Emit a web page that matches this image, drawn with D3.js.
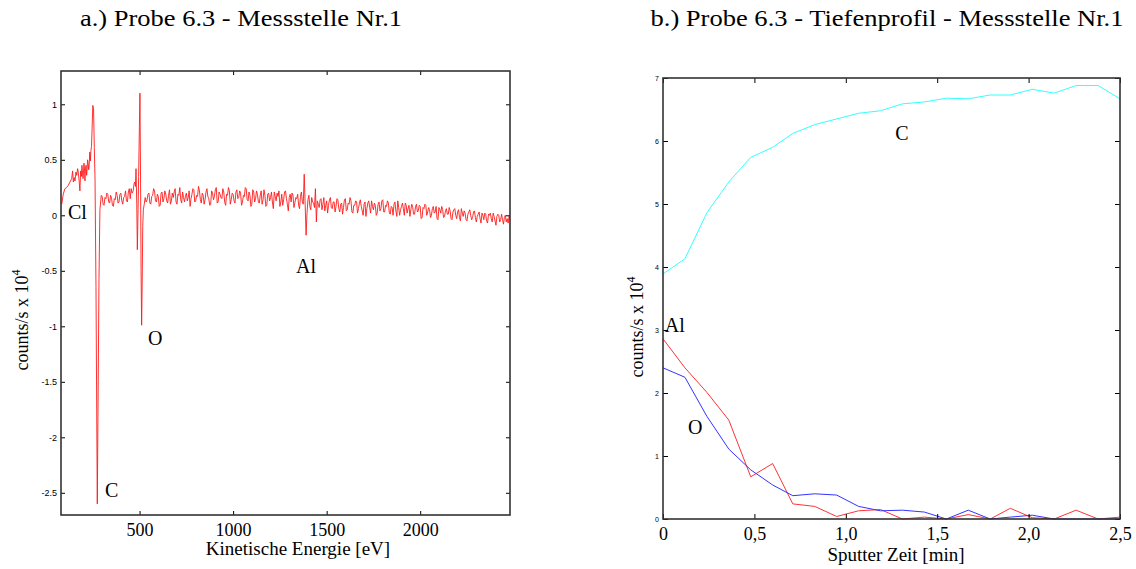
<!DOCTYPE html>
<html><head><meta charset="utf-8">
<script src="https://cdn.jsdelivr.net/npm/d3@7"></script>
<style>body{margin:0;background:#fff} svg{display:block}</style>
</head><body><svg id="c" width="1136" height="569"></svg>
<script>
// ---------- Chart a: AES spectrum ----------
const energyEV = [
 84,92,101,110,119,128,137,142,146,150,155,160,164,169,173,178,181,185,189,192,
 195,198,203,206,208,211,214,217,219,222,225,228,230,234,237,240,243,246,250,254,
 258,262,267,271,274,279,283,288,292,
 295,300,305,310,315,320,325,330,335,340,345,350,355,360,365,370,375,380,385,390,
 395,400,405,410,415,420,425,430,435,440,445,450,
 455,460,466,470,474,478,481,485,488,492,495,499,502,505,508,511,514,517,520,525,530,535,
 540,545,550,555,560,565,570,575,580,585,590,595,600,605,610,615,620,625,630,635,
 640,645,650,655,660,665,670,675,680,685,690,695,700,705,710,715,720,725,730,735,
 740,745,750,755,760,765,770,775,780,785,790,795,800,805,810,815,820,825,830,835,
 840,845,850,855,860,865,870,875,880,885,890,895,900,905,910,915,920,925,930,935,
 940,945,950,955,960,965,970,975,980,985,990,995,1000,1005,1010,1015,1020,1025,1030,1035,
 1040,1045,1050,1055,1060,1065,1070,1075,1080,1085,1090,1095,1100,1105,1110,1115,1120,1125,1130,1135,
 1140,1145,1150,1155,1160,1165,1170,1175,1180,1185,1190,1195,1200,1205,1210,1215,1220,1225,1230,1235,
 1240,1245,1250,1255,1260,1265,1270,1275,1280,1285,1290,1295,1300,1305,1310,1315,1320,1325,1330,1335,
 1340,1345,1350,1355,1360,1365,1370,1375,1380,1385,1390,1395,1400,1405,1410,1415,1420,1425,1430,1435,
 1440,1445,1450,1455,1460,1465,1470,1475,1480,1485,1490,1495,1500,1505,1510,1515,1520,1525,1530,1535,
 1540,1545,1550,1555,1560,1565,1570,1575,1580,1585,1590,1595,1600,1605,1610,1615,1620,1625,1630,1635,
 1640,1645,1650,1655,1660,1665,1670,1675,1680,1685,1690,1695,1700,1705,1710,1715,1720,1725,1730,1735,
 1740,1745,1750,1755,1760,1765,1770,1775,1780,1785,1790,1795,1800,1805,1810,1815,1820,1825,1830,1835,
 1840,1845,1850,1855,1860,1865,1870,1875,1880,1885,1890,1895,1900,1905,1910,1915,1920,1925,1930,1935,
 1940,1945,1950,1955,1960,1965,1970,1975,1980,1985,1990,1995,2000,2005,2010,2015,2020,2025,2030,2035,
 2040,2045,2050,2055,2060,2065,2070,2075,2080,2085,2090,2095,2100,2105,2110,2115,2120,2125,2130,2135,
 2140,2145,2150,2155,2160,2165,2170,2175,2180,2185,2190,2195,2200,2205,2210,2215,2220,2225,2230,2235,
 2240,2245,2250,2255,2260,2265,2270,2275,2280,2285,2290,2295,2300,2305,2310,2315,2320,2325,2330,2335,
 2340,2345,2350,2355,2360,2365,2370,2375,2380,2385,2390,2395,2400,2405,2410,2415,2420,2425,2430,2435,
 2440,2445,2450,2455,2460,2465,2470,2475,2480
];
const countsA = [
 0.10,0.19,0.24,0.25,0.27,0.30,0.33,0.40,0.30,0.34,0.31,0.39,0.36,0.42,0.38,0.29,0.22,0.40,0.35,0.45,
 0.38,0.33,0.47,0.40,0.31,0.42,0.45,0.36,0.40,0.50,0.47,0.41,0.43,0.57,0.49,0.58,0.62,0.77,0.99,0.96,
 0.61,0.31,-0.65,-1.78,-2.60,-1.49,-0.58,0.05,0.12,
 0.18,0.17,0.10,0.09,0.16,0.15,0.20,0.19,0.12,0.11,0.18,0.16,0.09,0.08,0.15,0.14,0.21,0.18,0.11,0.12,
 0.19,0.20,0.13,0.10,0.16,0.17,0.22,0.13,0.12,0.21,0.24,0.15,
 0.24,0.20,0.22,0.28,0.30,0.26,0.42,0.10,-0.31,0.05,0.35,0.80,1.10,0.40,-0.50,-0.99,-0.60,-0.10,0.05,0.10,0.16,0.12,
 0.14,0.19,0.20,0.11,0.10,0.17,0.18,0.24,0.22,0.13,0.12,0.19,0.17,0.08,0.09,0.20,0.21,0.12,0.15,0.22,
 0.19,0.13,0.11,0.18,0.23,0.10,0.13,0.20,0.16,0.21,0.24,0.12,0.10,0.19,0.18,0.25,0.14,0.11,0.21,0.16,
 0.12,0.17,0.20,0.13,0.16,0.22,0.08,0.15,0.19,0.24,0.23,0.12,0.13,0.18,0.17,0.26,0.22,0.14,0.11,0.20,
 0.18,0.10,0.14,0.21,0.24,0.17,0.15,0.09,0.10,0.22,0.20,0.14,0.17,0.23,0.25,0.11,0.12,0.21,0.19,0.16,
 0.15,0.24,0.21,0.12,0.09,0.19,0.18,0.25,0.22,0.10,0.14,0.20,0.19,0.13,0.11,0.21,0.23,0.15,0.16,0.22,
 0.20,0.09,0.12,0.18,0.17,0.25,0.24,0.14,0.13,0.21,0.18,0.08,0.10,0.23,0.21,0.12,0.15,0.22,0.19,0.12,
 0.11,0.18,0.22,0.10,0.14,0.23,0.18,0.08,0.09,0.19,0.20,0.13,0.16,0.21,0.12,0.06,0.21,0.17,0.13,0.20,
 0.17,0.22,0.08,0.12,0.19,0.09,0.14,0.21,0.22,0.15,0.10,0.04,0.16,0.19,0.12,0.20,0.18,0.07,0.11,0.16,
 0.15,0.19,0.09,0.06,0.17,0.21,0.12,0.10,0.37,0.10,-0.18,0.02,0.14,0.18,0.08,0.05,0.16,0.12,0.11,0.07,
 0.24,-0.06,0.13,0.10,0.07,0.14,0.15,0.05,0.10,0.16,0.04,0.09,0.13,0.02,0.09,0.14,0.16,0.07,0.06,0.12,
 0.12,0.03,0.08,0.15,0.14,0.06,0.03,0.10,0.11,0.01,0.07,0.14,0.15,0.04,0.05,0.11,0.10,0.16,0.13,0.03,
 0.02,0.09,0.09,0.13,0.12,0.02,0.06,0.11,0.14,0.08,0.04,0.00,0.10,0.12,-0.01,0.06,0.11,0.13,0.07,0.02,
 0.13,0.08,0.05,0.11,0.09,0.00,0.02,0.10,0.12,0.04,0.06,0.13,0.14,0.03,0.03,0.09,0.08,0.13,0.11,0.02,
 0.01,0.08,0.07,0.00,0.10,0.12,0.04,-0.01,0.13,0.07,0.00,0.05,0.08,0.11,0.06,0.00,0.11,0.09,0.02,0.06,
 0.09,-0.01,0.05,0.10,0.07,0.01,0.01,0.08,0.10,0.03,0.04,0.09,0.08,-0.03,-0.02,0.07,0.06,0.10,0.09,0.00,
 0.03,0.07,0.05,-0.02,0.00,0.06,0.08,0.02,0.03,0.08,-0.03,-0.04,0.07,0.05,0.02,0.08,0.05,-0.02,-0.01,0.04,
 0.06,0.01,0.01,0.07,0.04,-0.03,-0.04,0.03,0.05,0.06,0.00,-0.03,0.03,0.05,-0.02,-0.05,0.06,0.02,-0.01,0.04,
 0.02,-0.04,-0.05,0.01,0.03,0.05,0.00,-0.04,-0.02,0.03,0.04,-0.02,-0.06,-0.01,0.01,0.03,-0.03,-0.07,0.02,0.00,
 -0.04,0.02,0.01,-0.05,-0.07,0.01,0.00,0.02,-0.03,-0.06,0.02,-0.01,-0.05,-0.09,-0.01,0.01,0.00,-0.06,-0.04,0.01,
 -0.04,-0.08,-0.02,0.00,-0.06,-0.03,-0.07,-0.01,-0.03
];
const xTicksA = [500, 1000, 1500, 2000];
const yTicksA = [1, 0.5, 0, -0.5, -1, -1.5, -2, -2.5];
const yTickLabelsA = ["1", "0.5", "0", "-0.5", "-1", "-1.5", "-2", "-2.5"];

// ---------- Chart b: depth profile ----------
const sputterTime = [0,0.12,0.24,0.36,0.48,0.60,0.71,0.83,0.95,1.07,1.19,1.31,1.43,1.55,1.67,1.79,1.90,2.02,2.14,2.26,2.38,2.50];
const carbonC = [3.89,4.13,4.86,5.35,5.74,5.90,6.12,6.26,6.35,6.44,6.48,6.59,6.62,6.68,6.67,6.73,6.73,6.82,6.76,6.88,6.88,6.67];
const aluminiumAl = [2.86,2.40,2.01,1.57,0.67,0.88,0.24,0.20,0.04,0.13,0.15,0.00,0.03,0.00,0.07,0.00,0.17,0.02,0.00,0.14,0.00,0.03];
const oxygenO = [2.40,2.25,1.63,1.11,0.78,0.54,0.37,0.40,0.38,0.20,0.13,0.14,0.11,0.00,0.14,0.00,0.03,0.06,0.00,0.00,0.00,0.00];
const xTicksB = [0, 0.5, 1, 1.5, 2, 2.5];
const xTickLabelsB = ["0", "0,5", "1,0", "1,5", "2,0", "2,5"];
const yTicksB = [0, 1, 2, 3, 4, 5, 6, 7];

const svg = d3.select("#c");
const serif = "'Liberation Serif','Times New Roman',serif";
const sans = "'Liberation Sans',Arial,sans-serif";
const frameColor = "#333";

function frame(g, x, y, xt, yt, xlab, ylab, ySize, tickLen) {
  const [x0, x1] = x.range(), [y0, y1] = y.range();
  const ax = (gen, tx, ty) => {
    const a = g.append("g").attr("transform", `translate(${tx},${ty})`).call(gen);
    a.select(".domain").remove();
    a.selectAll("line").attr("stroke", "#000").attr("stroke-width", 1);
    return a;
  };
  ax(d3.axisBottom(x).tickValues(xt).tickSizeInner(-tickLen).tickSizeOuter(0).tickPadding(8).tickFormat((d,i)=>xlab[i]), 0, y0)
    .selectAll("text").attr("font-family", serif).attr("font-size", 18).attr("fill", "#000");
  ax(d3.axisTop(x).tickValues(xt).tickSizeInner(-tickLen).tickSizeOuter(0).tickFormat(""), 0, y1);
  ax(d3.axisLeft(y).tickValues(yt).tickSizeInner(-tickLen).tickSizeOuter(0).tickPadding(4).tickFormat((d,i)=>ylab[i]), x0, 0)
    .selectAll("text").attr("font-family", sans).attr("font-size", ySize).attr("fill", "#000");
  ax(d3.axisRight(y).tickValues(yt).tickSizeInner(-tickLen).tickSizeOuter(0).tickFormat(""), x1, 0);
  g.append("rect").attr("x", x0).attr("y", y1).attr("width", x1 - x0).attr("height", y0 - y1)
    .attr("fill", "none").attr("stroke", frameColor).attr("stroke-width", 1.6);
}

function label(g, txt, x, y, size, anchor, len) {
  const t = g.append("text").attr("x", x).attr("y", y).attr("font-family", serif).attr("font-size", size)
    .attr("text-anchor", anchor || "start").attr("fill", "#000").text(txt);
  if (len) t.attr("textLength", len).attr("lengthAdjust", "spacingAndGlyphs");
}
function ylabel(g, x, y) {
  const t = g.append("text").attr("transform", `translate(${x},${y}) rotate(-90)`)
    .attr("font-family", serif).attr("font-size", 18).attr("text-anchor", "middle").attr("fill", "#000");
  t.append("tspan").text("counts/s x 10");
  t.append("tspan").attr("font-size", 12).attr("dy", -8).text("4");
}

// Chart a
const gA = svg.append("g");
const xA = d3.scaleLinear().domain([80, 2480]).range([61, 510]);
const yA = d3.scaleLinear().domain([-2.7, 1.3]).range([515, 71]);
gA.append("path").datum(energyEV.map((e, i) => [e, countsA[i]]))
  .attr("fill", "none").attr("stroke", "#ff1a1a").attr("stroke-width", 0.9)
  .attr("d", d3.line().x(d => xA(d[0])).y(d => yA(d[1])));
frame(gA, xA, yA, xTicksA, yTicksA, xTicksA.map(String), yTickLabelsA, 9, 4);
label(gA, "a.) Probe 6.3 - Messstelle Nr.1", 241, 26, 23, "middle", 322);
label(gA, "Kinetische Energie [eV]", 298, 555, 19, "middle");
ylabel(gA, 28, 320);
label(gA, "Cl", xA(117), yA(-0.03), 20);
label(gA, "C", xA(315), yA(-2.54), 20);
label(gA, "O", xA(545), yA(-1.17), 20);
label(gA, "Al", xA(1336), yA(-0.52), 20);

// Chart b
const gB = svg.append("g");
const xB = d3.scaleLinear().domain([0, 2.5]).range([663, 1120]);
const yB = d3.scaleLinear().domain([0, 7]).range([519, 78]);
const lineB = d3.line().x((d, i) => xB(sputterTime[i])).y(d => yB(d));
[[carbonC, "#33ffff"], [aluminiumAl, "#ff3333"], [oxygenO, "#3333ff"]].forEach(([s, c]) => {
  gB.append("path").datum(s).attr("fill", "none").attr("stroke", c).attr("stroke-width", 1).attr("d", lineB);
});
frame(gB, xB, yB, xTicksB, yTicksB, xTickLabelsB, yTicksB.map(String), 7, 5);
label(gB, "b.) Probe 6.3 - Tiefenprofil - Messstelle Nr.1", 887, 26, 23, "middle", 473);
label(gB, "Sputter Zeit [min]", 896, 561, 19, "middle");
ylabel(gB, 643, 327);
label(gB, "C", xB(1.27), yB(6.02), 20);
label(gB, "Al", xB(0.01), yB(2.97), 20);
label(gB, "O", xB(0.137), yB(1.35), 20);
</script></body></html>
